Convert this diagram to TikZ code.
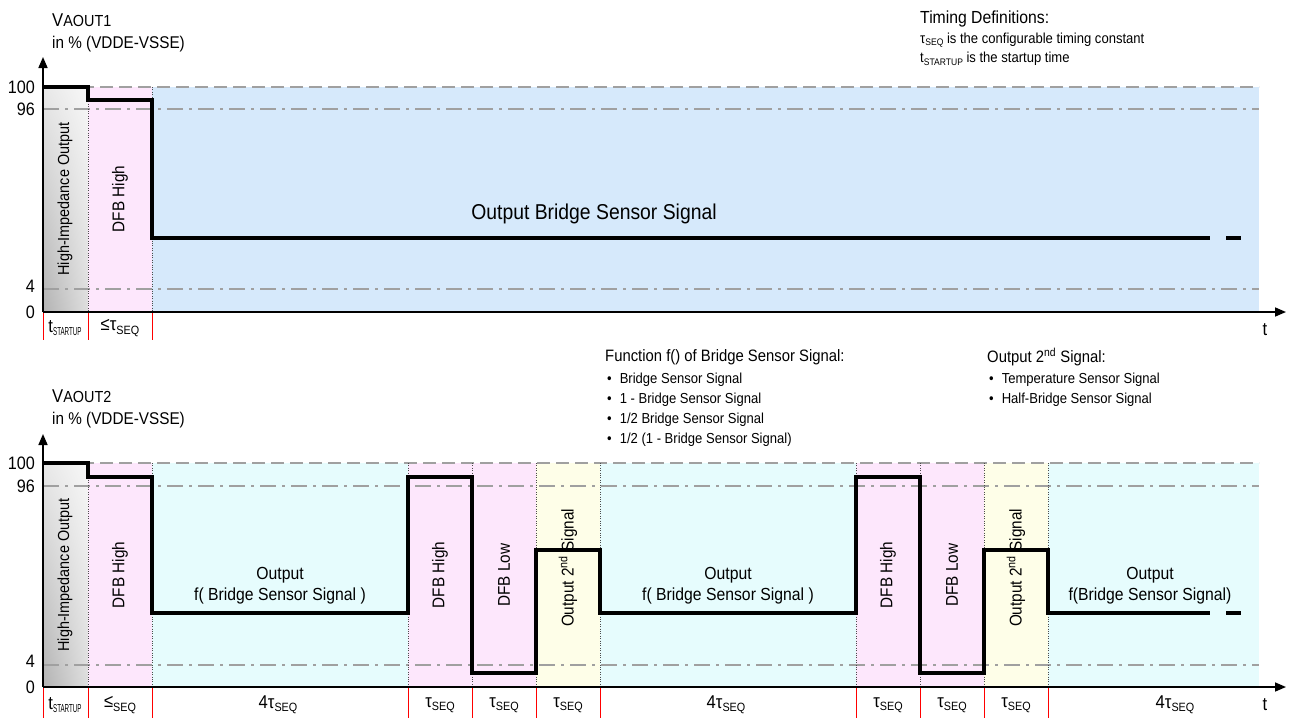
\documentclass[tikz,border=0pt]{standalone}
\usepackage{fontspec}
\setmainfont[FakeStretch=0.9]{Liberation Sans}
\usepackage{graphicx}
\usetikzlibrary{arrows.meta,shadings}
\definecolor{bgblue}{HTML}{D6E9FB}
\definecolor{bgcyan}{HTML}{E6FCFD}
\definecolor{bgpink}{HTML}{FDE7FC}
\definecolor{bgyellow}{HTML}{FEFEE8}
\definecolor{refgray}{HTML}{A0A0A0}
\newcommand\mysub[2][12]{\raisebox{-0.35ex}{\fontsize{#1}{#1}\selectfont #2}}
\newcommand\tseqsym{τ\mysub{SEQ}}
\newcommand\tstartsym{t\raisebox{-0.35ex}{\scalebox{0.6}[1]{\fontsize{11.5}{11.5}\selectfont STARTUP}}}
\begin{document}
\begin{tikzpicture}[x=1pt,y=-1pt,
  sig/.style={line width=3.2pt, line join=miter, line cap=butt},
  axisline/.style={line width=1.6pt, -{Triangle[length=11pt,width=9pt]}},
  ref100/.style={refgray, line width=1.6pt, dash pattern=on 13pt off 6pt},
  refdd/.style={refgray, line width=1.6pt, dash pattern=on 16pt off 6pt on 3pt off 6pt},
  sep/.style={black!70, line width=0.6pt, dash pattern=on 0.8pt off 1.6pt},
  tickline/.style={red, line width=0.8pt},
  lbl/.style={inner sep=0pt, font=\fontsize{17.5}{21}\selectfont},
  biglbl/.style={inner sep=0pt, font=\fontsize{21.5}{25}\selectfont},
  hilbl/.style={inner sep=0pt, rotate=90, font=\fontsize{16}{19}\selectfont},
  rotlbl/.style={inner sep=0pt, rotate=90, font=\fontsize{17}{20}\selectfont},
  ylbl/.style={inner sep=0pt, anchor=east, font=\fontsize{18}{21}\selectfont},
  head/.style={inner sep=0pt, anchor=west, font=\fontsize{16.5}{19}\selectfont},
  item/.style={inner sep=0pt, anchor=west, font=\fontsize{14.5}{17}\selectfont},
  timelbl/.style={inner sep=0pt, font=\fontsize{18.5}{21}\selectfont},
  hishade/.style={lower left=black!30, upper left=black!9, lower right=black!13, upper right=black!3}
]
\useasboundingbox (0,0) rectangle (1290,718);

% ================= TOP CHART =================
\shade[hishade] (43,87) rectangle (88,312);
\fill[bgpink] (88,87) rectangle (152,312);
\fill[bgblue] (152,87) rectangle (1259,312);

\draw[ref100] (43,87) -- (1259,87);
\draw[refdd] (43,109) -- (1259,109);
\draw[refdd] (43,289) -- (1259,289);

\foreach \x in {88,152} \draw[sep] (\x,87) -- (\x,312);

\draw[sig] (43,87) -- (88,87) -- (88,100) -- (152,100) -- (152,238) -- (1210,238);
\draw[sig] (1226,238) -- (1241,238);

\coordinate (O1) at (43,312);
\coordinate (Y1) at (43,57);
\coordinate (T1) at (1286,312);
\draw[axisline] (O1) -- (Y1);
\draw[axisline] (O1) -- (T1);

\foreach \x in {43,88,152} \draw[tickline] (\x,313) -- (\x,340);

\node[ylbl] (a100) at (35,87) {100};
\node[ylbl] (a96) at (35,109) {96};
\node[ylbl] (a4) at (35,286) {4};
\node[ylbl] (a0) at (35,312) {0};

\node[inner sep=0pt, anchor=west, font=\fontsize{18.5}{21}\selectfont] (vaout1) at (52,20) {V{\fontsize{16}{19}\selectfont AOUT1}};
\node[inner sep=0pt, anchor=west, font=\fontsize{17}{20}\selectfont] (unit1) at (52,44) {in \% (VDDE-VSSE)};

\node[hilbl] (hio1) at (65,199) {High-Impedance Output};
\node[rotlbl] (dfb1) at (120,199) {DFB High};
\node[biglbl] (obs) at (594,214) {Output Bridge Sensor Signal};

\node[timelbl] (ts1) at (65,328) {\tstartsym};
\node[timelbl] (tq1) at (120,328) {≤\tseqsym};
\node[timelbl] (tt1) at (1265,330) {t};

\node[head, font=\fontsize{17.5}{20}\selectfont] (tdef) at (920,19) {Timing Definitions:};
\node[item] (tdef1) at (920,40) {τ\mysub[9.5]{SEQ} is the configurable timing constant};
\node[item] (tdef2) at (920,59) {t\mysub[9.5]{STARTUP} is the startup time};

% ================= TEXT BLOCKS =================
\node[head] (fhead) at (605,357) {Function f() of Bridge Sensor Signal:};
\node[item] (fb1) at (607,380) {•\hspace{8pt}Bridge Sensor Signal};
\node[item] (fb2) at (607,400) {•\hspace{8pt}1 - Bridge Sensor Signal};
\node[item] (fb3) at (607,420) {•\hspace{8pt}1/2 Bridge Sensor Signal};
\node[item] (fb4) at (607,440) {•\hspace{8pt}1/2 (1 - Bridge Sensor Signal)};

\node[head] (ohead) at (987,357) {Output 2\textsuperscript{nd} Signal:};
\node[item] (ob1) at (989,380) {•\hspace{8pt}Temperature Sensor Signal};
\node[item] (ob2) at (989,400) {•\hspace{8pt}Half-Bridge Sensor Signal};

% ================= BOTTOM CHART =================
\shade[hishade] (43,463) rectangle (88,687);
\fill[bgpink] (88,463) rectangle (152,687);
\fill[bgcyan] (152,463) rectangle (408,687);
\fill[bgpink] (408,463) rectangle (536,687);
\fill[bgyellow] (536,463) rectangle (600,687);
\fill[bgcyan] (600,463) rectangle (856,687);
\fill[bgpink] (856,463) rectangle (984,687);
\fill[bgyellow] (984,463) rectangle (1048,687);
\fill[bgcyan] (1048,463) rectangle (1259,687);

\draw[ref100] (43,463) -- (1259,463);
\draw[refdd] (43,486) -- (1259,486);
\draw[refdd] (43,665) -- (1259,665);

\foreach \x in {88,152,408,472,536,600,856,920,984,1048} \draw[sep] (\x,463) -- (\x,687);

\draw[sig] (43,463) -- (88,463) -- (88,477) -- (152,477) -- (152,613) -- (408,613)
  -- (408,477) -- (472,477) -- (472,673) -- (536,673) -- (536,550) -- (600,550)
  -- (600,613) -- (856,613) -- (856,477) -- (920,477) -- (920,673) -- (984,673)
  -- (984,550) -- (1048,550) -- (1048,613) -- (1210,613);
\draw[sig] (1226,613) -- (1241,613);

\coordinate (O2) at (43,687);
\coordinate (Y2) at (43,434);
\coordinate (T2) at (1286,687);
\draw[axisline] (O2) -- (Y2);
\draw[axisline] (O2) -- (T2);

\foreach \x in {43,88,152,408,472,536,600,856,920,984,1048} \draw[tickline] (\x,688) -- (\x,718);

\node[ylbl] (b100) at (35,463) {100};
\node[ylbl] (b96) at (35,486) {96};
\node[ylbl] (b4) at (35,661) {4};
\node[ylbl] (b0) at (35,687) {0};

\node[inner sep=0pt, anchor=west, font=\fontsize{18.5}{21}\selectfont] (vaout2) at (52,396) {V{\fontsize{16}{19}\selectfont AOUT2}};
\node[inner sep=0pt, anchor=west, font=\fontsize{17}{20}\selectfont] (unit2) at (52,420) {in \% (VDDE-VSSE)};

\node[hilbl] (hio2) at (65,575) {High-Impedance Output};
\node[rotlbl] (dfb2) at (120,575) {DFB High};
\node[rotlbl] (dfb3) at (440,575) {DFB High};
\node[rotlbl] (dfl1) at (504,575) {DFB Low};
\node[rotlbl] (o2s1) at (568,568) {Output 2\textsuperscript{nd} Signal};
\node[rotlbl] (dfb4) at (888,575) {DFB High};
\node[rotlbl] (dfl2) at (952,575) {DFB Low};
\node[rotlbl] (o2s2) at (1016,568) {Output 2\textsuperscript{nd} Signal};

\node[lbl, align=center] (fo1) at (280,586) {Output\\f( Bridge Sensor Signal )};
\node[lbl, align=center] (fo2) at (728,586) {Output\\f( Bridge Sensor Signal )};
\node[lbl, align=center] (fo3) at (1150,586) {Output\\f(Bridge Sensor Signal)};

\node[timelbl] (ts2) at (65,705) {\tstartsym};
\node[timelbl] (tq2) at (120,705) {≤\mysub{SEQ}};
\node[timelbl] (l1) at (278,705) {4\tseqsym};
\node[timelbl] (l2) at (440,705) {\tseqsym};
\node[timelbl] (l3) at (504,705) {\tseqsym};
\node[timelbl] (l4) at (568,705) {\tseqsym};
\node[timelbl] (l5) at (726,705) {4\tseqsym};
\node[timelbl] (l6) at (888,705) {\tseqsym};
\node[timelbl] (l7) at (952,705) {\tseqsym};
\node[timelbl] (l8) at (1016,705) {\tseqsym};
\node[timelbl] (l9) at (1175,705) {4\tseqsym};
\node[timelbl] (tt2) at (1265,705) {t};
\end{tikzpicture}
\end{document}
